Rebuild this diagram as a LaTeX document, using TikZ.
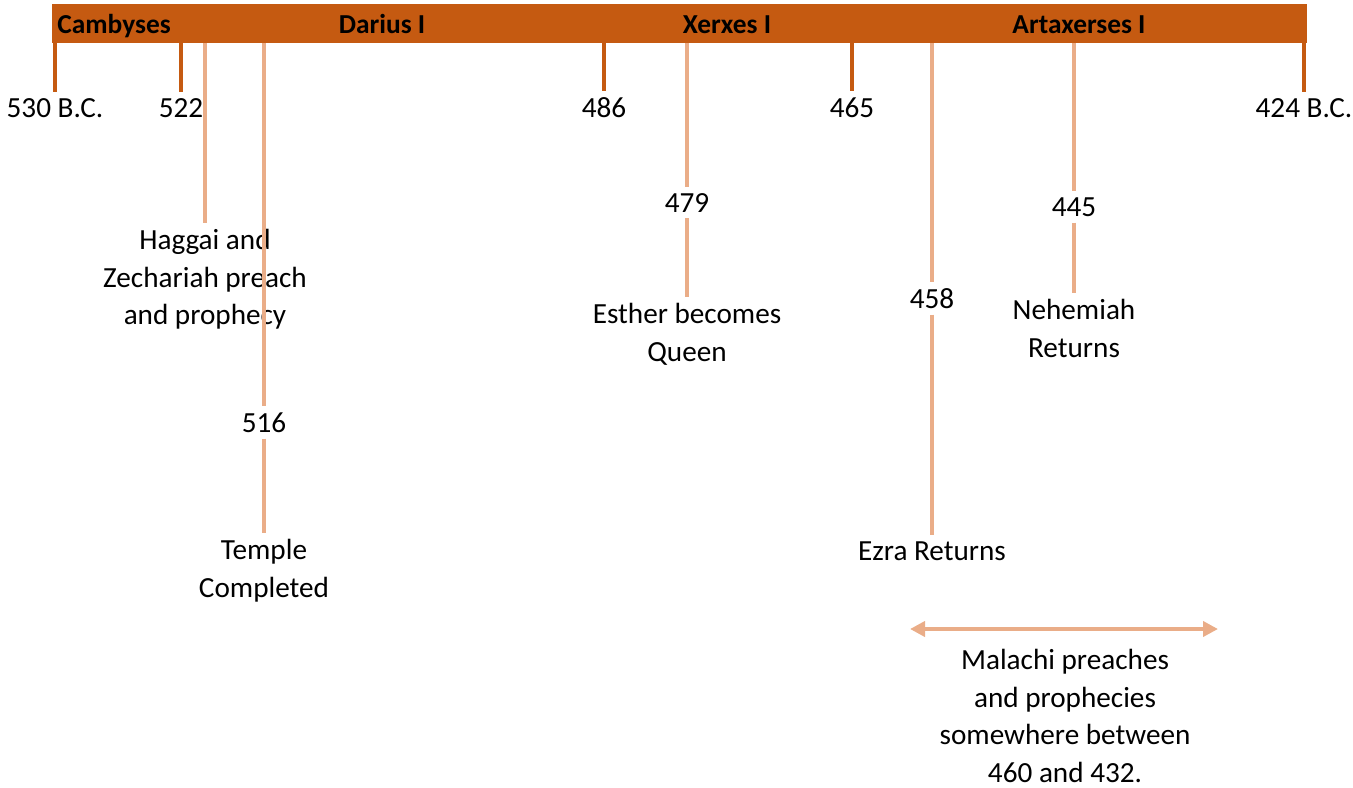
\documentclass[tikz,border=0pt]{standalone}
\usepackage{fontspec}
\setmainfont{Carlito}
\usetikzlibrary{arrows.meta}
\definecolor{rust}{RGB}{197,90,17}
\definecolor{peach}{RGB}{234,173,136}
\begin{document}
\begin{tikzpicture}[x=0.5pt, y=-0.5pt, font=\fontsize{14.6}{18.75}\selectfont, line cap=butt,
  >={Triangle[length=7.5pt,width=7.5pt]},
  bar/.style={fill=rust, draw=none, minimum width=627.5pt, minimum height=19.5pt, inner sep=0pt},
  king/.style={font=\fontsize{13.7}{16}\selectfont\bfseries, inner sep=0pt},
  lbl/.style={inner sep=3pt, align=center},
  tick/.style={draw=rust, line width=1.7pt},
  evline/.style={draw=peach, line width=1.9pt}]
 \useasboundingbox (0,0) rectangle (1353,787);
 \node[bar] (bar) at (679.5,23.5) {};
 \node[king, anchor=base west] (cambyses) at (57,33) {Cambyses};
 \node[king, anchor=base] (darius) at (382,33) {Darius I};
 \node[king, anchor=base] (xerxes) at (727,33) {Xerxes I};
 \node[king, anchor=base] (artax) at (1079,33) {Artaxerses I};
 % reign boundaries
 \node[lbl, anchor=base] (y530) at (55,117) {530 B.C.};
 \node[lbl, anchor=base] (y522) at (181,117) {522};
 \node[lbl, anchor=base] (y486) at (604,117) {486};
 \node[lbl, anchor=base] (y465) at (852,117) {465};
 \node[lbl, anchor=base] (y424) at (1304,117) {424 B.C.};
 \foreach \n in {y530,y522,y486,y465,y424}
   \draw[tick] (\n.north |- bar.south) -- (\n.north);
 % events
 \node[lbl, anchor=north] (haggai) at (205,223) {Haggai and\\Zechariah preach\\and prophecy};
 \node[lbl, anchor=base] (y516) at (264,432) {516};
 \node[lbl, anchor=north] (temple) at (264,533) {Temple\\Completed};
 \node[lbl, anchor=base] (y479) at (687,212) {479};
 \node[lbl, anchor=north] (esther) at (687,297) {Esther becomes\\Queen};
 \node[lbl, anchor=base] (y458) at (932,308) {458};
 \node[lbl, anchor=base] (ezra) at (932,560) {Ezra Returns};
 \node[lbl, anchor=base] (y445) at (1074,216) {445};
 \node[lbl, anchor=north] (nehemiah) at (1074,293) {Nehemiah\\Returns};
 \node[lbl, anchor=north] (malachi) at (1065,643) {Malachi preaches\\and prophecies\\somewhere between\\460 and 432.};
 \draw[evline] (haggai.north |- bar.south) -- (haggai.north);
 \draw[evline] (y516.north |- bar.south) -- (y516.north);
 \draw[evline] (y516.south) -- (temple.north);
 \draw[evline] (y479.north |- bar.south) -- (y479.north);
 \draw[evline] (y479.south) -- (esther.north);
 \draw[evline] (y458.north |- bar.south) -- (y458.north);
 \draw[evline] (y458.south) -- (ezra.north);
 \draw[evline] (y445.north |- bar.south) -- (y445.north);
 \draw[evline] (y445.south) -- (nehemiah.north);
 \coordinate (mfrom) at (910,629);
 \coordinate (mto) at (1218,629);
 \draw[evline, <->] (mfrom) -- (mto);
\end{tikzpicture}
\end{document}
